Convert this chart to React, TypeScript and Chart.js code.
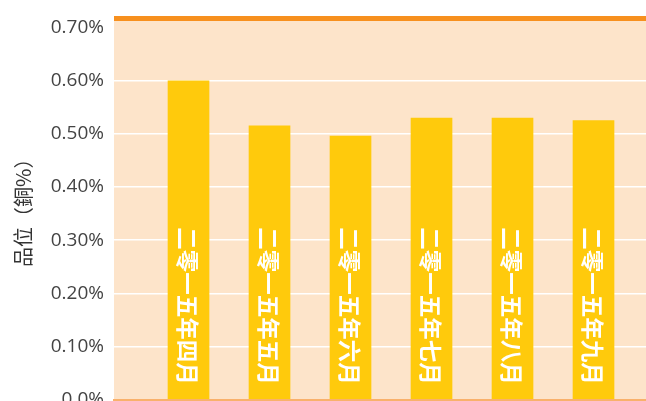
import React, { useEffect, useRef } from "react";
import { Chart, registerables } from "chart.js";

Chart.register(...registerables);

const categories = [
  "二零一五年四月",
  "二零一五年五月",
  "二零一五年六月",
  "二零一五年七月",
  "二零一五年八月",
  "二零一五年九月",
];
const grades = [0.6, 0.515, 0.496, 0.53, 0.53, 0.525];
const yTicks = [0, 0.1, 0.2, 0.3, 0.4, 0.5, 0.6, 0.7];
const yTitle = "品位（銅%）";

const fmtTick = (v: number) => (Math.abs(v) < 1e-9 ? "0.0%" : v.toFixed(2) + "%");

const bgPlugin = {
  id: "bgPlugin",
  beforeDraw(chart: any) {
    const { ctx, chartArea } = chart;
    ctx.save();
    ctx.fillStyle = "#fde4ca";
    ctx.fillRect(chartArea.left, chartArea.top, chartArea.right - chartArea.left, chartArea.bottom - chartArea.top);
    ctx.restore();
  },
  afterDraw(chart: any) {
    const { ctx, chartArea } = chart;
    ctx.save();
    ctx.fillStyle = "#f7901e";
    ctx.fillRect(chartArea.left, chartArea.top, chartArea.right - chartArea.left, 5);
    ctx.restore();
  },
};

const labelPlugin = {
  id: "labelPlugin",
  afterDatasetsDraw(chart: any) {
    const { ctx } = chart;
    const meta = chart.getDatasetMeta(0);
    ctx.save();
    ctx.fillStyle = "#ffffff";
    ctx.font = "bold 22.5px 'Noto Sans CJK SC'";
    ctx.textAlign = "right";
    ctx.textBaseline = "middle";
    meta.data.forEach((bar: any, i: number) => {
      ctx.save();
      ctx.translate(bar.x, bar.base - 14);
      ctx.rotate(Math.PI / 2);
      ctx.fillText(categories[i], 0, 1);
      ctx.restore();
    });
    ctx.restore();
  },
};

export default function App() {
  const ref = useRef<HTMLCanvasElement>(null);
  useEffect(() => {
    const chart = new Chart(ref.current!, {
      type: "bar",
      data: {
        datasets: [
          {
            data: grades.map((g, i) => ({ x: i + 1, y: g })),
            backgroundColor: "#ffca0c",
            barThickness: 41,
          },
        ],
      },
      options: {
        animation: false,
        responsive: false,
        maintainAspectRatio: false,
        devicePixelRatio: 1,
        layout: { padding: { top: 8, right: 0, left: 0, bottom: 10.5 } },
        plugins: { legend: { display: false }, tooltip: { enabled: false } },
        scales: {
          x: {
            type: "linear",
            offset: false,
            min: 0.08,
            max: 6.648,
            ticks: { display: false },
            grid: { display: false, drawTicks: false },
            border: { display: true, color: "#f9b16b", width: 2 },
            afterFit: (scale: any) => {
              scale.paddingLeft = 0;
              scale.paddingRight = 0;
              scale.paddingTop = 0;
              scale.paddingBottom = 0;
              scale.height = 0;
            },
          },
          y: {
            min: 0,
            max: 0.722,
            afterBuildTicks: (scale: any) => {
              scale.ticks = yTicks.map((v) => ({ value: v }));
            },
            afterFit: (scale: any) => {
              scale.width = 106;
              scale.paddingTop = 0;
              scale.paddingBottom = 0;
              scale.paddingLeft = 0;
              scale.paddingRight = 0;
            },
            ticks: {
              callback: (v: any) => fmtTick(Number(v)),
              color: "#444444",
              font: { family: "'Open Sans'", size: 19 },
              padding: 10,
            },
            grid: {
              color: (c: any) => (c.tick && Math.abs(c.tick.value - 0.7) < 1e-9 ? "rgba(0,0,0,0)" : "#ffffff"),
              lineWidth: 1.5,
              drawTicks: false,
            },
            border: { display: false },
            title: {
              display: true,
              text: yTitle,
              color: "#333333",
              font: { family: "'Noto Sans CJK SC'", size: 20 },
              padding: { top: 3, bottom: 0 },
            },
          },
        },
      },
      plugins: [bgPlugin, labelPlugin],
    });
    return () => chart.destroy();
  }, []);
  return (
    <div style={{ position: "fixed", left: 8, top: 8, width: 638, height: 402 }}>
      <canvas ref={ref} width={638} height={402} style={{ display: "block" }} />
    </div>
  );
}
